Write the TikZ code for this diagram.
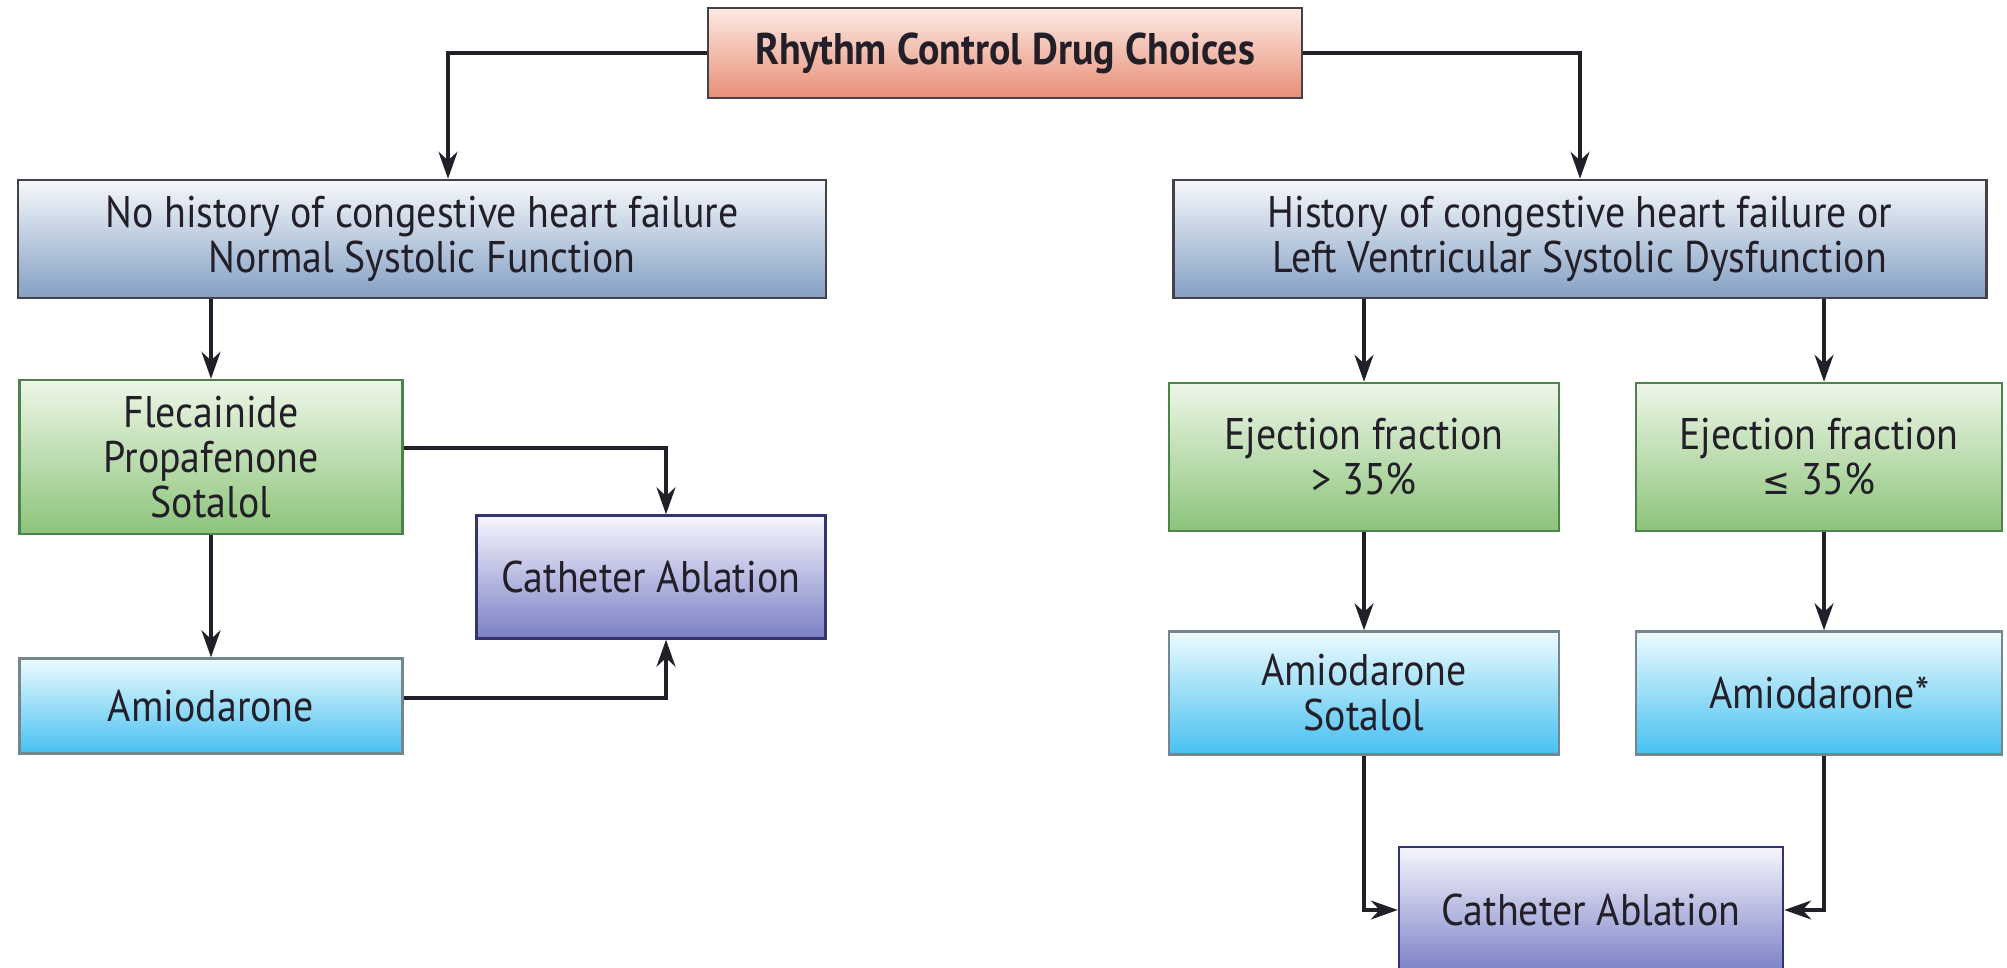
\documentclass[tikz,border=0pt]{standalone}
\usepackage{fontspec}
\setmainfont{PT Sans}[FakeStretch=0.9]
\usetikzlibrary{arrows.meta,positioning,calc}
\definecolor{redtop}{RGB}{252,234,228}
\definecolor{redbot}{RGB}{232,142,118}
\definecolor{bluetop}{RGB}{246,248,251}
\definecolor{bluebot}{RGB}{132,160,196}
\definecolor{greentop}{RGB}{238,246,232}
\definecolor{greenbot}{RGB}{140,196,122}
\definecolor{cyantop}{RGB}{238,251,254}
\definecolor{cyanbot}{RGB}{70,192,240}
\definecolor{purptop}{RGB}{246,246,252}
\definecolor{purpbot}{RGB}{122,128,198}
\definecolor{ink}{RGB}{35,31,40}

\begin{document}
\begin{tikzpicture}[x=0.01cm,y=-0.01cm,>={Stealth[length=0.27cm,width=0.19cm]},
  box/.style={draw=ink!85,line width=0.7pt,align=center,inner sep=0pt,
    text=ink,font=\fontsize{12.6}{12.8}\selectfont},
  sz/.style 2 args={minimum width=#1*0.01cm,minimum height=#2*0.01cm},
  redbox/.style={box,top color=redtop,bottom color=redbot},
  bluebox/.style={box,top color=bluetop,bottom color=bluebot},
  greenbox/.style={box,draw=green!30!black!70,top color=greentop,bottom color=greenbot},
  cyanbox/.style={box,draw=cyan!30!black!70,top color=cyantop,bottom color=cyanbot},
  purpbox/.style={box,draw=blue!30!black!80,top color=purptop,bottom color=purpbot},
  link/.style={->,draw=ink,line width=0.9pt}]
\path[use as bounding box,clip] (0,0) rectangle (2007,968);

% header
\node[redbox,sz={594}{90},font=\fontsize{12.6}{12.8}\selectfont\bfseries] (top) at (1005,53) {Rhythm Control Drug Choices};

% left branch
\node[bluebox,sz={808}{118}] (noCHF) at (422,239) {No history of congestive heart failure\\Normal Systolic Function};
\node[greenbox,sz={383}{154}] (fleca) at (211,457) {Flecainide\\Propafenone\\Sotalol};
\node[purpbox,sz={349}{123}] (cathL) at (651,577) {Catheter Ablation};
\node[cyanbox,sz={383}{95}] (amioL) at (211,706) {Amiodarone};

% right branch
\node[bluebox,sz={813}{118}] (CHF) at (1580,239) {History of congestive heart failure or\\Left Ventricular Systolic Dysfunction};
\node[greenbox,sz={390}{148}] (efHigh) at (1364,457) {Ejection fraction\\> 35\%};
\node[greenbox,sz={366}{148}] (efLow) at (1819,457) {Ejection fraction\\{\fontspec{DejaVu Sans}[FakeStretch=0.9]\fontsize{10.5}{12.8}\selectfont ≤} 35\%};
\node[cyanbox,sz={390}{123}] (amSot) at (1364,693) {Amiodarone\\Sotalol};
\node[cyanbox,sz={366}{123}] (amStar) at (1819,693) {Amiodarone*};
\node[purpbox,sz={384}{126}] (cathR) at (1591,910) {Catheter Ablation};

% connectors
\draw[link] (top.west) -| ($(noCHF.north)+(26,0)$);
\draw[link] (top.east) -| (CHF.north);
\draw[link] (fleca.north |- noCHF.south) -- (fleca.north);
\draw[link] (fleca) -- (amioL);
\draw[link] ($(fleca.east)+(0,-9)$) -| ($(cathL.north)+(15,0)$);
\draw[link] ($(amioL.east)+(0,-8)$) -| ($(cathL.south)+(15,0)$);
\draw[link] (efHigh.north |- CHF.south) -- (efHigh.north);
\draw[link] ($(efLow.north |- CHF.south)+(5,0)$) -- ($(efLow.north)+(5,0)$);
\draw[link] (efHigh) -- (amSot);
\draw[link] ($(efLow.south)+(5,0)$) -- ($(amStar.north)+(5,0)$);
\draw[link] (amSot.south) |- (cathR.west);
\draw[link] ($(amStar.south)+(5,0)$) |- (cathR.east);
\end{tikzpicture}
\end{document}
